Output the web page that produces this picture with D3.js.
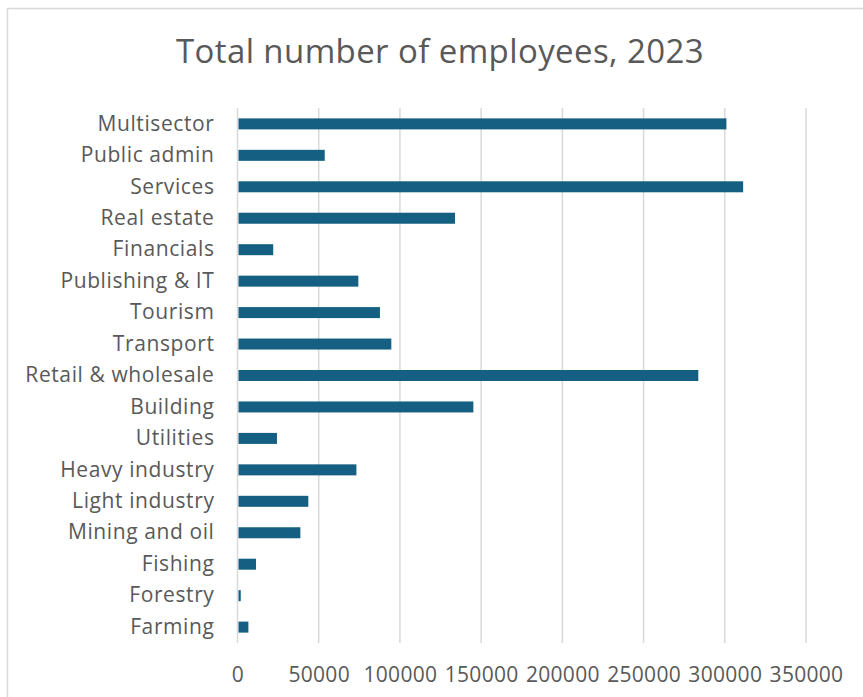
<!DOCTYPE html>
<html>
<head>
<meta charset="utf-8">
<script src="https://cdn.jsdelivr.net/npm/d3@7"></script>
<style>
  body { margin: 0; background: #fff; }
  svg { display: block; font-family: "Open Sans", sans-serif; }
</style>
</head>
<body>
<div id="chart"></div>
<script>
// Total number of employees by sector, 2023
const sectors = ['Multisector', 'Public admin', 'Services', 'Real estate', 'Financials',
  'Publishing & IT', 'Tourism', 'Transport', 'Retail & wholesale', 'Building', 'Utilities',
  'Heavy industry', 'Light industry', 'Mining and oil', 'Fishing', 'Forestry', 'Farming'];
const employees = [301000, 53700, 311300, 133900, 22000,
  74400, 87700, 94700, 283700, 145200, 24300,
  73200, 43600, 38700, 11400, 2000, 6700];
const xTicks = [0, 50000, 100000, 150000, 200000, 250000, 300000, 350000];

const W = 863, H = 697;
const margin = { top: 108, right: 57, bottom: 54, left: 237.5 };
const width = W - margin.left - margin.right;
const height = H - margin.top - margin.bottom;

const data = sectors.map((s, i) => ({ sector: s, value: employees[i] }));

const svg = d3.select('#chart').append('svg')
  .attr('width', W)
  .attr('height', H);

// chart area border
svg.append('rect')
  .attr('x', 7.5).attr('y', 8.5)
  .attr('width', W + 20).attr('height', H + 20)
  .style('fill', '#fff')
  .style('stroke', '#d9d9d9')
  .style('stroke-width', 1.5);

// Title
svg.append('text')
  .attr('x', 440)
  .attr('y', 63)
  .style('text-anchor', 'middle')
  .style('font-size', '33px')
  .style('letter-spacing', '0.4px')
  .style('fill', '#595959')
  .text('Total number of employees, 2023');

const g = svg.append('g')
  .attr('transform', `translate(${margin.left},${margin.top})`);

const xScale = d3.scaleLinear()
  .domain([0, 350000])
  .range([0, width]);

const yScale = d3.scaleBand()
  .domain(sectors)
  .range([0, height])
  .paddingInner(0.65)
  .paddingOuter(0.33);

// gridlines
g.selectAll('.grid')
  .data(xTicks)
  .enter().append('line')
  .attr('class', 'grid')
  .attr('x1', d => xScale(d))
  .attr('x2', d => xScale(d))
  .attr('y1', 0)
  .attr('y2', height)
  .style('stroke', '#d9d9d9')
  .style('stroke-width', 1.5);

// bars
g.selectAll('.bar')
  .data(data)
  .enter().append('rect')
  .attr('class', 'bar')
  .attr('x', xScale(0) + 1)
  .attr('y', d => yScale(d.sector))
  .attr('width', d => Math.max(0, xScale(d.value) - xScale(0) - 1))
  .attr('height', yScale.bandwidth())
  .style('fill', '#156082');

// x axis labels
const xAxis = d3.axisBottom(xScale)
  .tickValues(xTicks)
  .tickSize(0)
  .tickPadding(24)
  .tickFormat(d3.format('d'));

g.append('g')
  .attr('transform', `translate(0,${height})`)
  .call(xAxis)
  .call(a => a.select('.domain').remove())
  .selectAll('text')
  .style('font-family', '"Open Sans", sans-serif')
  .style('font-size', '21px')
  .style('letter-spacing', '0.3px')
  .style('fill', '#595959');

// y axis labels
const yAxis = d3.axisLeft(yScale)
  .tickSize(0)
  .tickPadding(23);

g.append('g')
  .call(yAxis)
  .call(a => a.select('.domain').remove())
  .selectAll('text')
  .style('font-family', '"Open Sans", sans-serif')
  .style('font-size', '21px')
  .style('letter-spacing', '0.6px')
  .style('fill', '#595959');
</script>
</body>
</html>
